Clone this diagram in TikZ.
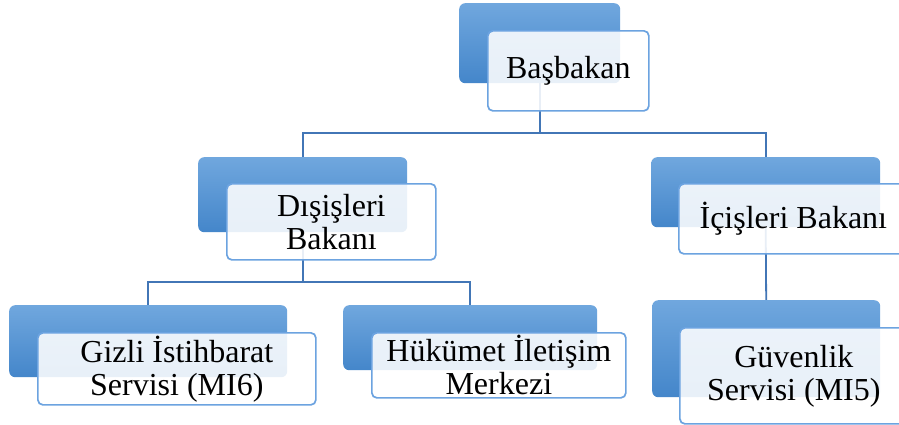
\documentclass[tikz,border=0pt]{standalone}
\usepackage{fontspec}
\setmainfont{Liberation Serif}
\usetikzlibrary{backgrounds}
\definecolor{backtop}{RGB}{112,167,222}
\definecolor{backbot}{RGB}{68,134,202}
\definecolor{frontline}{RGB}{108,163,224}
\definecolor{connline}{RGB}{66,118,182}
\tikzset{
  back/.style={rectangle, rounded corners=6pt, anchor=north west, inner sep=0pt,
    top color=backtop, bottom color=backbot, draw=none},
  front/.style={rectangle, rounded corners=5pt, anchor=north west, inner sep=0pt,
    fill=white, fill opacity=0.88, text opacity=1, draw=frontline, line width=1.7pt,
    align=center, font=\fontsize{32}{33}\selectfont},
  conn/.style={draw=connline, line width=1.8pt},
}
\begin{document}
\begin{tikzpicture}[x=1pt,y=-1pt]
\clip (0,0) rectangle (899,424);
% back boxes
\node[back, minimum width=161, minimum height=80] (b0) at (459,3) {};
\node[back, minimum width=209, minimum height=75] (b1) at (198,157) {};
\node[back, minimum width=229, minimum height=70] (b2) at (651,157) {};
\node[back, minimum width=278, minimum height=72] (b3) at (9,305) {};
\node[back, minimum width=254, minimum height=65] (b4) at (343,305) {};
\node[back, minimum width=228, minimum height=97] (b5) at (652,300) {};
% connectors
\coordinate (j0) at (0,133);
\coordinate (j1) at (0,282);
\begin{scope}[on background layer]
\fill[white] (0,0) rectangle (899,424);
\draw[conn] (b0.south) -- (b0.south |- j0);
\draw[conn] (b1.north) |- (b0.south |- j0) -| (b2.north);
\draw[conn] (b1.south) -- (b1.south |- j1);
\draw[conn] (b3.north) |- (b1.south |- j1) -| (b4.north);
\draw[conn] (b2.south) -- (b5.north);
\end{scope}
% front boxes
\node[front, minimum width=161, minimum height=80] (f0) at (487,30) {Başbakan};
\node[front, minimum width=209, minimum height=76] (f1) at (226,183) {Dışişleri\\Bakanı};
\node[front, minimum width=229, minimum height=70] (f2) at (678,183) {İçişleri Bakanı};
\node[front, minimum width=278, minimum height=72] (f3) at (37,332) {Gizli İstihbarat\\Servisi (MI6)};
\node[front, minimum width=254, minimum height=65] (f4) at (371,332) {Hükümet İletişim\\Merkezi};
\node[front, minimum width=228, minimum height=96] (f5) at (679,327) {Güvenlik\\Servisi (MI5)};
\end{tikzpicture}
\end{document}
